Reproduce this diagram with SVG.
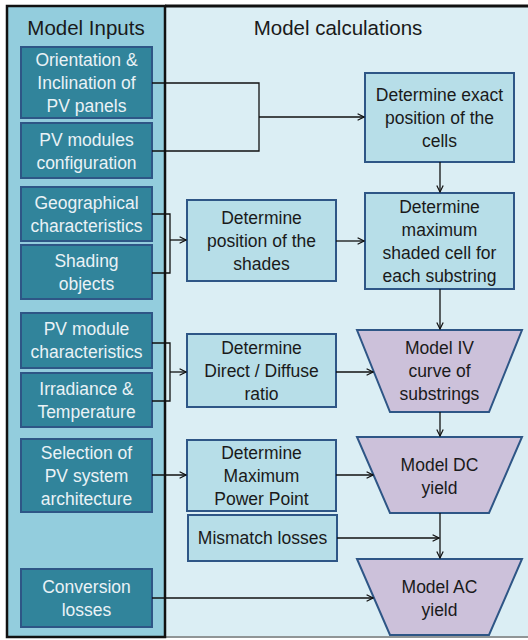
<svg xmlns="http://www.w3.org/2000/svg" width="528" height="640" viewBox="0 0 528 640">
<style>
text{font-family:"Liberation Sans",Arial,sans-serif;font-size:17.5px;text-anchor:middle}
.title{font-size:20.5px;fill:#1a1a1a}
.inp rect{fill:#31849B;stroke:#2E5686;stroke-width:2}
.inp text{fill:#EAF2F6}
.calc rect{fill:#B7DEE8;stroke:#2E5686;stroke-width:2}
.calc text,.model text{fill:#1a1a1a}
.model polygon{fill:#CCC1DA;stroke:#2E5686;stroke-width:2}
.conn path{fill:none;stroke:#111;stroke-width:1.3}
</style>
<defs>
<marker id="arr" viewBox="0 0 10 10" refX="9" refY="5" markerWidth="8" markerHeight="8" markerUnits="userSpaceOnUse" orient="auto">
<path d="M1,1 L9,5 L1,9" fill="none" stroke="#111" stroke-width="1.5"/>
</marker>
</defs>
<rect x="0" y="0" width="528" height="640" fill="#ffffff"/>
<rect x="165" y="6" width="363" height="632" fill="#DBEEF4"/>
<line x1="165" y1="6" x2="528" y2="6" stroke="#111" stroke-width="3"/>
<line x1="165" y1="637" x2="528" y2="637" stroke="#777" stroke-width="1.5"/>
<rect x="7" y="6" width="158" height="631" fill="#93CDDD" stroke="#111" stroke-width="2.5"/>
<text class="title" x="86" y="35">Model Inputs</text>
<text class="title" x="338" y="35">Model calculations</text>

<g id="in1" class="inp"><rect x="21" y="47" width="131" height="71"/><text x="86.5" y="65.5">Orientation &amp;</text><text x="86.5" y="88.5">Inclination of</text><text x="86.5" y="111.5">PV panels</text></g>
<g id="in2" class="inp"><rect x="21" y="123" width="131" height="55"/><text x="86.5" y="145.5">PV modules</text><text x="86.5" y="168.5">configuration</text></g>
<g id="in3" class="inp"><rect x="21" y="187" width="131" height="54"/><text x="86.5" y="208.5">Geographical</text><text x="86.5" y="231.5">characteristics</text></g>
<g id="in4" class="inp"><rect x="21" y="245" width="131" height="54"/><text x="86.5" y="266.5">Shading</text><text x="86.5" y="289.5">objects</text></g>
<g id="in5" class="inp"><rect x="21" y="313" width="131" height="55"/><text x="86.5" y="335">PV module</text><text x="86.5" y="358">characteristics</text></g>
<g id="in6" class="inp"><rect x="21" y="373" width="131" height="54"/><text x="86.5" y="394.5">Irradiance &amp;</text><text x="86.5" y="417.5">Temperature</text></g>
<g id="in7" class="inp"><rect x="21" y="439" width="131" height="73"/><text x="86.5" y="458.5">Selection of</text><text x="86.5" y="481.5">PV system</text><text x="86.5" y="504.5">architecture</text></g>
<g id="in8" class="inp"><rect x="21" y="569" width="131" height="58"/><text x="86.5" y="592.5">Conversion</text><text x="86.5" y="615.5">losses</text></g>

<g id="shades" class="calc"><rect x="187" y="200" width="149" height="81"/><text x="261.5" y="223.5">Determine</text><text x="261.5" y="246.5">position of the</text><text x="261.5" y="269.5">shades</text></g>
<g id="direct" class="calc"><rect x="187" y="334" width="149" height="73"/><text x="261.5" y="353.5">Determine</text><text x="261.5" y="376.5">Direct / Diffuse</text><text x="261.5" y="399.5">ratio</text></g>
<g id="mpp" class="calc"><rect x="187" y="440" width="149" height="71"/><text x="261.5" y="458.5">Determine</text><text x="261.5" y="481.5">Maximum</text><text x="261.5" y="504.5">Power Point</text></g>
<g id="mismatch" class="calc"><rect x="188" y="515" width="149" height="46"/><text x="262.5" y="544">Mismatch losses</text></g>
<g id="exact" class="calc"><rect x="365" y="73" width="149" height="89"/><text x="439.5" y="100.5">Determine exact</text><text x="439.5" y="123.5">position of the</text><text x="439.5" y="146.5">cells</text></g>
<g id="maxshade" class="calc"><rect x="365" y="193" width="149" height="96"/><text x="439.5" y="212.5">Determine</text><text x="439.5" y="235.5">maximum</text><text x="439.5" y="258.5">shaded cell for</text><text x="439.5" y="281.5">each substring</text></g>

<g id="iv" class="model"><polygon points="357,330 522,330 489,412 390,412"/><text x="439.5" y="354">Model IV</text><text x="439.5" y="377">curve of</text><text x="439.5" y="400">substrings</text></g>
<g id="dc" class="model"><polygon points="357,437 522,437 489,513 390,513"/><text x="439.5" y="471">Model DC</text><text x="439.5" y="494">yield</text></g>
<g id="ac" class="model"><polygon points="357,559 522,559 489,635 390,635"/><text x="439.5" y="593">Model AC</text><text x="439.5" y="616">yield</text></g>

<g id="connectors" class="conn">
<path d="M152,83 H259 V151 H152"/>
<path d="M259,117 H364" stroke-width="2.2" marker-end="url(#arr)"/>
<path d="M152,214 H170 V273 H152"/>
<path d="M170,240 H186" marker-end="url(#arr)"/>
<path d="M336,241 H364" marker-end="url(#arr)"/>
<path d="M440,162 V192" marker-end="url(#arr)"/>
<path d="M440,289 V329" marker-end="url(#arr)"/>
<path d="M152,343 H170 V401 H152"/>
<path d="M170,372 H186" marker-end="url(#arr)"/>
<path d="M336,372 H373" marker-end="url(#arr)"/>
<path d="M440,412 V436" marker-end="url(#arr)"/>
<path d="M152,475 H186" marker-end="url(#arr)"/>
<path d="M336,475 H373" marker-end="url(#arr)"/>
<path d="M337,538 H439" marker-end="url(#arr)"/>
<path d="M440,513 V558" marker-end="url(#arr)"/>
<path d="M152,598 H373" marker-end="url(#arr)"/>
</g>
</svg>
